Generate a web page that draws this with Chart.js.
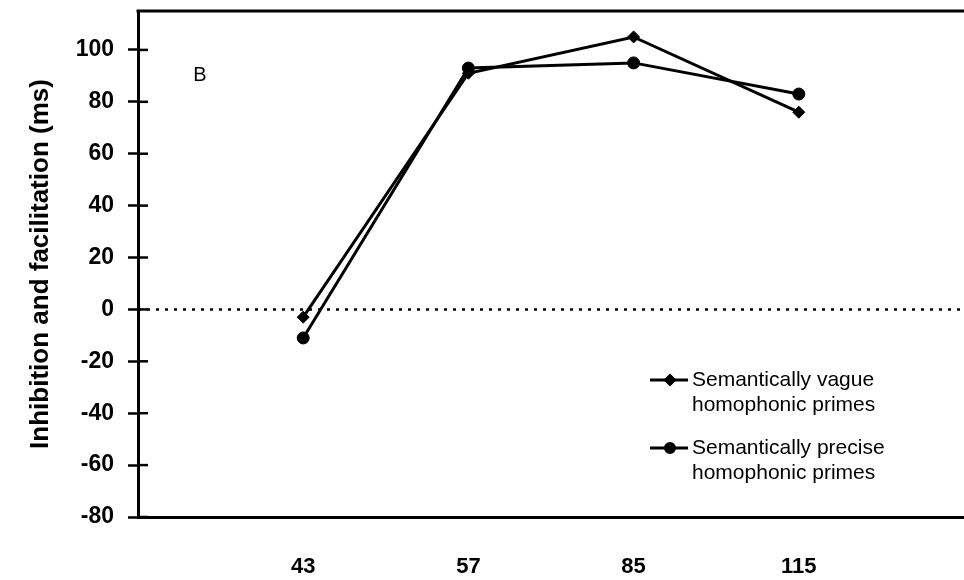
<!DOCTYPE html>
<html>
<head>
<meta charset="utf-8">
<script src="https://cdn.jsdelivr.net/npm/chart.js@4.4.1/dist/chart.umd.min.js"></script>
<style>
  html, body { margin: 0; padding: 0; background: #fff; }
  #wrap { width: 964px; height: 580px; position: relative; }
</style>
</head>
<body>
<div id="wrap"><canvas id="chart"></canvas></div>
<script>
// --- data ---
const categories = ['43', '57', '85', '115'];
const vagueValues = [-3, 91, 105, 76];
const preciseValues = [-11, 93, 95, 83];
const yTicks = [-80, -60, -40, -20, 0, 20, 40, 60, 80, 100];
const vagueLabel = ['Semantically vague', 'homophonic primes'];
const preciseLabel = ['Semantically precise', 'homophonic primes'];
const yTitle = 'Inhibition and facilitation (ms)';
const panelLetter = 'B';

// empty slots at both ends so the categories sit inside the box
const labels = [''].concat(categories, ['']);
const pad = arr => [null].concat(arr, [null]);

const FONT = '"Liberation Sans", Arial, sans-serif';

// zero line, inward ticks, top border, panel letter, legend
const extras = {
  id: 'extras',
  beforeDatasetsDraw(chart) {
    const { ctx, chartArea: a, scales } = chart;
    const y0 = scales.y.getPixelForValue(0);
    ctx.save();
    ctx.strokeStyle = '#000';
    ctx.lineWidth = 2.5;
    ctx.setLineDash([3, 6]);
    ctx.beginPath();
    ctx.moveTo(a.left, y0);
    ctx.lineTo(a.right, y0);
    ctx.stroke();
    ctx.setLineDash([]);

    // ticks reach into the plot too
    ctx.lineWidth = 2.5;
    scales.y.ticks.forEach(t => {
      const py = scales.y.getPixelForValue(t.value);
      ctx.beginPath();
      ctx.moveTo(a.left, py);
      ctx.lineTo(a.left + 10, py);
      ctx.stroke();
    });

    // top border
    ctx.lineWidth = 3;
    ctx.beginPath();
    ctx.moveTo(a.left - 1.5, a.top);
    ctx.lineTo(a.right, a.top);
    ctx.stroke();

    ctx.fillStyle = '#000';
    ctx.font = '20px ' + FONT;
    ctx.textAlign = 'center';
    ctx.textBaseline = 'middle';
    ctx.fillText(panelLetter, a.left + 62, a.top + 64);
    ctx.restore();
  },
  afterDatasetsDraw(chart) {
    const { ctx, chartArea: a } = chart;
    const x = a.left + 512;
    const rows = [a.top + 369, a.top + 437];
    ctx.save();
    chart.data.datasets.forEach((ds, i) => {
      const y = rows[i];
      ctx.strokeStyle = '#000';
      ctx.lineWidth = 3;
      ctx.beginPath();
      ctx.moveTo(x, y);
      ctx.lineTo(x + 38, y);
      ctx.stroke();
      Chart.helpers.drawPoint(ctx, {
        pointStyle: ds.pointStyle,
        radius: 4.5,
        borderWidth: 1
      }, x + 20, y);
      ctx.fillStyle = '#000';
      ctx.font = '21px ' + FONT;
      ctx.textAlign = 'left';
      ctx.textBaseline = 'middle';
      ds.label.forEach((line, k) => ctx.fillText(line, x + 42, y + k * 25));
    });
    ctx.restore();
  }
};

new Chart(document.getElementById('chart'), {
  type: 'line',
  data: {
    labels: labels,
    datasets: [
      {
        label: vagueLabel,
        data: pad(vagueValues),
        borderColor: '#000',
        backgroundColor: '#000',
        borderWidth: 3,
        pointStyle: 'rectRot',
        pointRadius: 6,
        pointBorderWidth: 1,
        tension: 0
      },
      {
        label: preciseLabel,
        data: pad(preciseValues),
        borderColor: '#000',
        backgroundColor: '#000',
        borderWidth: 3,
        pointStyle: 'circle',
        pointRadius: 6,
        pointBorderWidth: 1,
        tension: 0
      }
    ]
  },
  options: {
    responsive: true,
    maintainAspectRatio: false,
    animation: false,
    layout: { autoPadding: false, padding: { top: 11, right: 0, bottom: 0, left: 0 } },
    plugins: { legend: { display: false }, tooltip: { enabled: false } },
    scales: {
      x: {
        offset: false,
        grid: { display: false },
        border: { display: true, color: '#000', width: 3 },
        ticks: {
          color: '#000',
          padding: 29,
          autoSkip: false,
          maxRotation: 0,
          font: { family: FONT, size: 22, weight: 'bold' }
        },
        afterFit: s => {
          s.height = 63;
          s.paddingLeft = 0;
          s.paddingRight = 0;
        }
      },
      y: {
        min: -80,
        max: 115,
        afterBuildTicks: s => { s.ticks = yTicks.map(v => ({ value: v })); },
        grid: {
          display: true,
          drawOnChartArea: false,
          drawTicks: true,
          tickLength: 10,
          tickWidth: 2.5,
          tickColor: '#000'
        },
        border: { display: true, color: '#000', width: 3 },
        ticks: {
          color: '#000',
          padding: 14,
          font: { family: FONT, size: 23, weight: 'bold' }
        },
        title: {
          display: true,
          text: yTitle,
          color: '#000',
          padding: { top: 25, bottom: 0 },
          font: { family: FONT, size: 26, weight: 'bold' }
        },
        afterFit: s => {
          s.width = 138;
          s.paddingTop = 0;
          s.paddingBottom = 0;
        }
      }
    }
  },
  plugins: [extras]
});
</script>
</body>
</html>
